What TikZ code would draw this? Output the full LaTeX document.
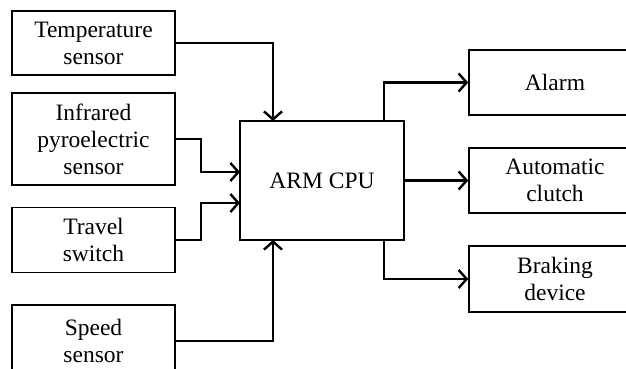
\documentclass[tikz,border=0pt]{standalone}
\usepackage{fontspec}
\setmainfont{Liberation Serif}
\usetikzlibrary{arrows.meta}
\begin{document}
\begin{tikzpicture}[x=1pt,y=-1pt,
  box/.style={draw, line width=1.5pt, rectangle, inner sep=0pt, align=center,
    font=\fontsize{23.5}{27}\selectfont},
  conn/.style={line width=2.4pt, -{Straight Barb[length=8pt,width=18pt,line width=2.4pt]}}]
\clip (0,0) rectangle (626,369);
\fill[white] (0,0) rectangle (626,369);
\node[box, minimum width=163pt, minimum height=64pt] (temp) at (93.5,43) {Temperature\\sensor};
\node[box, minimum width=163pt, minimum height=92pt] (ir) at (93.5,139) {Infrared\\pyroelectric\\sensor};
\node[box, minimum width=163pt, minimum height=65pt] (travel) at (93.5,240) {Travel\\switch};
\node[box, minimum width=163pt, minimum height=72pt] (speed) at (93.5,341) {Speed\\sensor};
\node[box, minimum width=164pt, minimum height=119pt] (cpu) at (322,180.5) {ARM CPU};
\node[box, minimum width=172pt, minimum height=65pt] (alarm) at (555,82.5) {Alarm};
\node[box, minimum width=172pt, minimum height=65pt] (clutch) at (555,180.5) {Automatic\\clutch};
\node[box, minimum width=172pt, minimum height=66pt] (brake) at (555,279) {Braking\\device};
\coordinate (tin) at (273,121);
\coordinate (sin) at (273,240);
\coordinate (aout) at (384,121);
\coordinate (bout) at (384,240);
\draw[conn] (temp.east) -| (tin);
\draw[conn] (ir.east) -- ++(25,0) |- (240,172);
\draw[conn] (travel.east) -- ++(25,0) |- (240,203);
\draw[conn] (speed.east) -| (sin);
\draw[conn] (aout) |- (alarm.west);
\draw[conn] (cpu.east) -- (clutch.west);
\draw[conn] (bout) |- (brake.west);
\end{tikzpicture}
\end{document}
